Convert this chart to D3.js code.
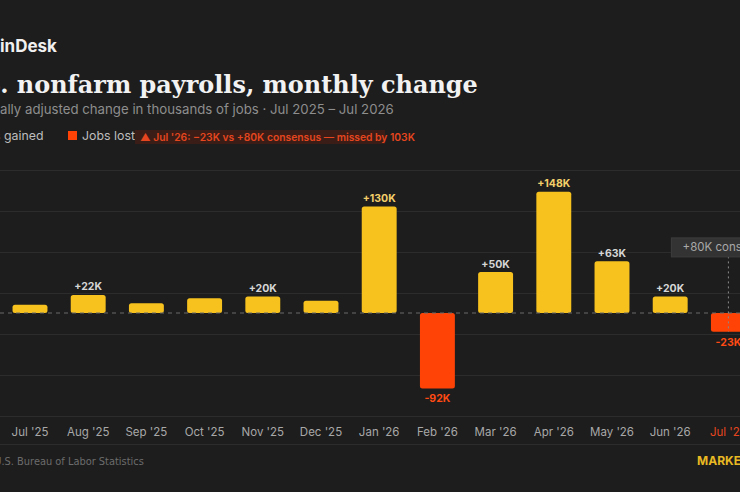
<!DOCTYPE html>
<html>
<head>
<meta charset="utf-8">
<script src="https://cdn.jsdelivr.net/npm/d3@7"></script>
<style>
  html, body { margin: 0; padding: 0; background: #1d1d1d; overflow: hidden; }
  svg { display: block; }
</style>
</head>
<body>
<div id="chart"></div>
<script>
const months = ["Jul '25", "Aug '25", "Sep '25", "Oct '25", "Nov '25", "Dec '25",
  "Jan '26", "Feb '26", "Mar '26", "Apr '26", "May '26", "Jun '26", "Jul '26"];
const change = [10, 22, 12, 18, 20, 15, 130, -92, 50, 148, 63, 20, -23];
const gridTicks = [-125, -75, -25, 25, 75, 125, 175];
const consensus = 80;

const width = 740, height = 492;
const yellow = "#f8c21e", red = "#ff4306";

const svg = d3.select("#chart")
  .append("svg")
    .attr("width", width)
    .attr("height", height);

svg.append("rect").attr("width", width).attr("height", height).attr("fill", "#1d1d1d");

const data = months.map((m, i) => ({ month: m, value: change[i] }));

// chart is wider than the frame, so band range runs past the right edge
const xScale = d3.scaleBand()
  .domain(months)
  .range([0.9, 757.5])
  .paddingInner(0.4)
  .paddingOuter(0.2);

const yScale = d3.scaleLinear()
  .domain([-125, 175])
  .range([415.5, 169.5]);

// size + place text so a hidden prefix falls off the left edge
const placeText = (sel, full, prefix, start, end) => {
  sel.style("font-size", "100px").text(prefix);
  const wPre = prefix ? sel.node().getComputedTextLength() : 0;
  sel.text(full);
  const wFull = sel.node().getComputedTextLength();
  const k = (end - start) / (wFull - wPre);
  sel.style("font-size", (100 * k) + "px")
    .attr("x", start - wPre * k);
  return 100 * k;
};

// gridlines
svg.append("g")
  .selectAll("line")
  .data(gridTicks)
  .join("line")
    .attr("x1", 0)
    .attr("x2", width)
    .attr("y1", d => Math.round(yScale(d)) + 0.5)
    .attr("y2", d => Math.round(yScale(d)) + 0.5)
    .attr("stroke", "#2c2c2c")
    .attr("stroke-width", 1);

svg.append("line")
  .attr("x1", 0).attr("x2", width)
  .attr("y1", 444.5).attr("y2", 444.5)
  .attr("stroke", "#2c2c2c");

// bars
svg.append("g")
  .selectAll("rect")
  .data(data)
  .join("rect")
    .attr("x", d => xScale(d.month))
    .attr("width", xScale.bandwidth())
    .attr("y", d => yScale(Math.max(0, d.value)))
    .attr("height", d => Math.abs(yScale(d.value) - yScale(0)))
    .attr("rx", 2.5)
    .attr("fill", d => d.value < 0 ? red : yellow);

// zero line
svg.append("line")
  .attr("x1", 0).attr("x2", width)
  .attr("y1", yScale(0)).attr("y2", yScale(0))
  .attr("stroke", "#6a6a6a")
  .attr("stroke-dasharray", "4,4");

// value labels, only for the bigger moves
svg.append("g")
  .selectAll("text")
  .data(data.filter(d => Math.abs(d.value) >= 20))
  .join("text")
    .attr("x", d => xScale(d.month) + xScale.bandwidth() / 2)
    .attr("y", d => d.value < 0 ? yScale(d.value) + 14 : yScale(d.value) - 4.5)
    .attr("text-anchor", "middle")
    .attr("fill", d => d.value < 0 ? "#ff4a14" : (d.value >= 100 ? "#f3cf6a" : "#d6d6d6"))
    .style("font-family", "Inter, sans-serif")
    .style("font-size", "10.5px")
    .style("font-weight", 700)
    .text(d => (d.value > 0 ? "+" : "-") + Math.abs(d.value) + "K");

// consensus marker on the last month
const last = data[data.length - 1];
const cx = xScale(last.month) + xScale.bandwidth() / 2;
svg.append("line")
  .attr("x1", cx).attr("x2", cx)
  .attr("y1", yScale(consensus) + 9)
  .attr("y2", yScale(last.value))
  .attr("stroke", "#8a8a8a")
  .attr("stroke-dasharray", "2,3");
svg.append("rect")
  .attr("x", cx - 57)
  .attr("y", yScale(consensus) - 9.5)
  .attr("width", 114)
  .attr("height", 19)
  .attr("fill", "#333333")
  .attr("stroke", "#3c3c3c");
svg.append("text")
  .attr("x", cx)
  .attr("y", yScale(consensus) + 4)
  .attr("text-anchor", "middle")
  .attr("fill", "#a9a9a9")
  .style("font-family", "Inter, sans-serif")
  .style("font-size", "11.5px")
  .text(`+${consensus}K consensus`);

// month axis
svg.append("g")
  .selectAll("text")
  .data(months)
  .join("text")
    .attr("x", d => xScale(d) + xScale.bandwidth() / 2)
    .attr("y", 436)
    .attr("text-anchor", "middle")
    .attr("fill", (d, i) => i === months.length - 1 ? "#e5461f" : "#a8a8a8")
    .style("font-family", "Inter, sans-serif")
    .style("font-size", "11.5px")
    .text(d => d);

// header
const brand = svg.append("text").attr("y", 52)
  .attr("fill", "#f0f0f0")
  .style("font-family", "Inter, sans-serif").style("font-weight", 700);
placeText(brand, "CoinDesk", "Co", 0, 57);

const title = svg.append("text").attr("y", 93)
  .attr("fill", "#f2f2f2")
  .style("font-family", "'DejaVu Serif', serif").style("font-weight", 700);
placeText(title, "U.S. nonfarm payrolls, monthly change", "U.S", 1, 478);

const sub = svg.append("text").attr("y", 114)
  .attr("fill", "#8e8e8e")
  .style("font-family", "Inter, sans-serif");
placeText(sub, "Seasonally adjusted change in thousands of jobs \u00b7 Jul 2025 \u2013 Jul 2026", "Season", 0, 394);

// legend
const lost = svg.append("text").attr("y", 140)
  .attr("fill", "#bdbdbd")
  .style("font-family", "Inter, sans-serif");
const legendSize = placeText(lost, "Jobs lost", "", 82, 135);

const gained = svg.append("text").attr("y", 140)
  .attr("fill", "#bdbdbd")
  .style("font-family", "Inter, sans-serif")
  .style("font-size", legendSize + "px");
gained.text("Jobs ");
const wJobs = gained.node().getComputedTextLength();
gained.text("Jobs gained").attr("x", -wJobs + 0.5);
svg.append("rect")
  .attr("x", -wJobs - 16).attr("y", 131)
  .attr("width", 9).attr("height", 9)
  .attr("fill", yellow);

svg.append("rect")
  .attr("x", 68).attr("y", 131)
  .attr("width", 9).attr("height", 9)
  .attr("fill", red);

svg.append("rect")
  .attr("x", 135).attr("y", 130)
  .attr("width", 250).attr("height", 14)
  .attr("fill", "#3a1d16");
const note = svg.append("text").attr("y", 140.5)
  .attr("fill", "#e5461f")
  .style("font-family", "Inter, 'DejaVu Sans', sans-serif").style("font-weight", 600);
placeText(note, "\u25b2 Jul '26: \u221223K vs +80K consensus \u2014 missed by 103K", "", 140, 415);

// footer
const src = svg.append("text").attr("y", 465)
  .attr("fill", "#6c6c6c")
  .style("font-family", "'Liberation Sans Narrow', 'DejaVu Sans Condensed', sans-serif");
placeText(src, "Source: U.S. Bureau of Labor Statistics", "Source: U", 1.5, 144);

svg.append("text")
  .attr("x", 697).attr("y", 465)
  .attr("fill", "#e8b923")
  .style("font-family", "Inter, sans-serif")
  .style("font-size", "12px")
  .style("font-weight", 700)
  .text("MARKETS");
</script>
</body>
</html>
